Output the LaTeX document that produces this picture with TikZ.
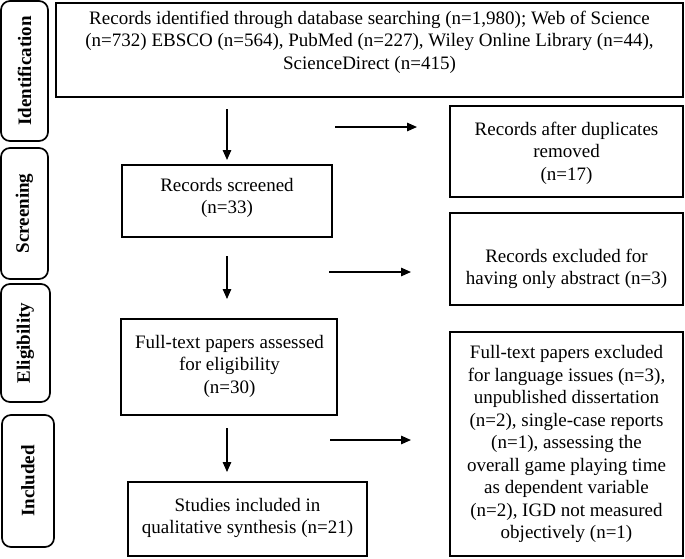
\documentclass[tikz,border=0pt]{standalone}
\usepackage{fontspec}
\setmainfont{Liberation Serif}
\usetikzlibrary{arrows.meta}
\begin{document}
\begin{tikzpicture}[x=1pt,y=-1pt,
  box/.style={draw, line width=1.2pt, inner sep=0pt},
  txt/.style={align=center, font=\fontsize{19}{22.5}\selectfont, inner sep=0pt},
  side/.style={draw, line width=1.7pt, rounded corners=9pt, inner sep=0pt},
  sidetxt/.style={rotate=90, font=\fontsize{19}{22.5}\selectfont\bfseries, inner sep=0pt},
  arr/.style={line width=1.4pt, -{Triangle[length=10pt,width=8.5pt]}}]
\useasboundingbox (0,0) rectangle (685,558);
% side phase labels
\node[side, minimum width=47pt, minimum height=140pt] (ident) at (24.5,71) {};
\node[sidetxt] (identt) at (ident.center) {Identification};
\node[side, minimum width=47pt, minimum height=131pt] (screen) at (24.5,213.5) {};
\node[sidetxt] (screent) at (screen.center) {Screening};
\node[side, minimum width=49pt, minimum height=118pt] (elig) at (25.5,343) {};
\node[sidetxt] (eligt) at (elig.center) {Eligibility};
\node[side, minimum width=52pt, minimum height=132pt] (incl) at (28,481) {};
\node[sidetxt] (inclt) at (incl.center) {Included};
% main boxes
\node[box, minimum width=627pt, minimum height=94pt] (top) at (369.5,50) {};
\node[txt] (topt) at (369.5,42) {Records identified through database searching (n=1,980); Web of Science\\(n=732) EBSCO (n=564), PubMed (n=227), Wiley Online Library (n=44),\\ScienceDirect (n=415)};
\node[box, minimum width=233pt, minimum height=91pt] (dup) at (566.5,151.5) {};
\node[txt] (dupt) at (566.5,153) {Records after duplicates\\removed\\(n=17)};
\node[box, minimum width=210pt, minimum height=72pt] (scr) at (227,201) {};
\node[txt] (scrt) at (227,198) {Records screened\\(n=33)};
\node[box, minimum width=233pt, minimum height=92pt] (ex1) at (566.5,259) {};
\node[txt] (ex1t) at (566.5,269) {Records excluded for\\having only abstract (n=3)};
\node[box, minimum width=216pt, minimum height=96pt] (full) at (229,367) {};
\node[txt] (fullt) at (229.5,366) {Full-text papers assessed\\for eligibility\\(n=30)};
\node[box, minimum width=233pt, minimum height=224pt] (ex2) at (566.5,444) {};
\node[txt] (ex2t) at (566.5,444) {Full-text papers excluded\\for language issues (n=3),\\unpublished dissertation\\(n=2), single-case reports\\(n=1), assessing the\\overall game playing time\\as dependent variable\\(n=2), IGD not measured\\objectively (n=1)};
\node[box, minimum width=239pt, minimum height=74pt] (stud) at (247.5,519) {};
\node[txt] (studt) at (247.5,518) {Studies included in\\qualitative synthesis (n=21)};
% arrow end points
\coordinate (d1a) at (227,109); \coordinate (d1b) at (227,160);
\coordinate (h1a) at (335,127); \coordinate (h1b) at (417,127);
\coordinate (d2a) at (227,256); \coordinate (d2b) at (227,299);
\coordinate (h2a) at (329,272); \coordinate (h2b) at (411,272);
\coordinate (d3a) at (227,428); \coordinate (d3b) at (227,472);
\coordinate (h3a) at (330,440); \coordinate (h3b) at (411,440);
\draw[arr] (d1a) -- (d1b);
\draw[arr] (h1a) -- (h1b);
\draw[arr] (d2a) -- (d2b);
\draw[arr] (h2a) -- (h2b);
\draw[arr] (d3a) -- (d3b);
\draw[arr] (h3a) -- (h3b);
\end{tikzpicture}
\end{document}
